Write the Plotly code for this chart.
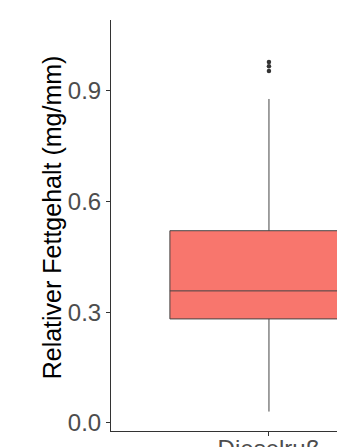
import plotly.graph_objects as go

categories = ["Dieselruß"]
q1 = [0.282]
median = [0.358]
q3 = [0.521]
lower_fence = [0.031]
upper_fence = [0.878]
outliers = [0.954, 0.967, 0.978]
y_ticks = [0.0, 0.3, 0.6, 0.9]

fig = go.Figure()
fig.add_trace(go.Box(
    x=categories, q1=q1, median=median, q3=q3,
    lowerfence=lower_fence, upperfence=upper_fence,
    fillcolor="#F8766D", line=dict(color="#444444", width=1),
    width=0.75, whiskerwidth=0, boxpoints=False, showlegend=False,
))
fig.add_trace(go.Scatter(
    x=[categories[0]] * len(outliers), y=outliers, mode="markers",
    marker=dict(color="#333333", size=4.5), showlegend=False,
))

fig.update_layout(
    width=337, height=447,
    margin=dict(l=111, r=0, t=20, b=16),
    plot_bgcolor="white", paper_bgcolor="white",
    font=dict(family="Liberation Sans, Arial, sans-serif"),
    showlegend=False,
    xaxis=dict(
        type="category", range=[-0.598, 0.2576],
        showline=True, linecolor="#333333", linewidth=1,
        ticks="outside", ticklen=4, tickcolor="#333333",
        tickfont=dict(size=24, color="#4D4D4D"),
        ticklabelstandoff=-8,
        showgrid=False, zeroline=False, automargin=False,
    ),
    yaxis=dict(
        range=[-0.0217, 1.092],
        tickvals=y_ticks, tickformat=".1f",
        showline=True, linecolor="#333333", linewidth=1,
        ticks="outside", ticklen=4, tickcolor="#333333",
        tickfont=dict(size=24, color="#4D4D4D"),
        showgrid=False, zeroline=False, automargin=False,
    ),
    annotations=[dict(
        text="Relativer Fettgehalt (mg/mm)", textangle=-90,
        xref="paper", yref="paper", x=-0.261, y=0.52,
        xanchor="center", yanchor="middle", showarrow=False,
        font=dict(size=25, color="black"),
    )],
)

fig.write_html("out.html")
